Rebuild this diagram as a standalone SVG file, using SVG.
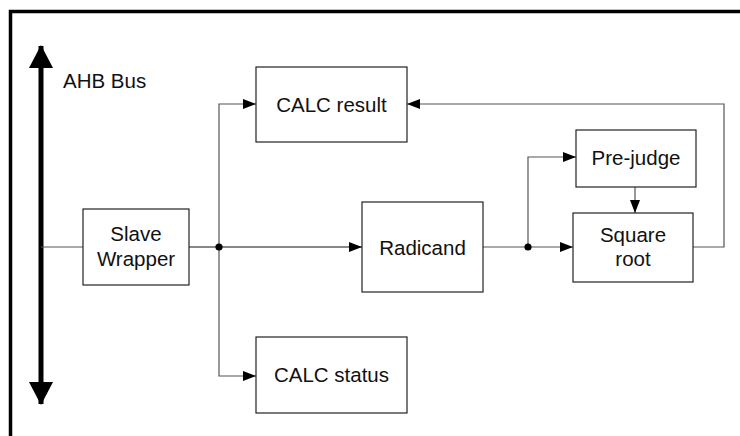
<svg xmlns="http://www.w3.org/2000/svg" width="740" height="436" viewBox="0 0 740 436">
<style>
.box{fill:#fff;stroke:#222;stroke-width:1.2}
.t{font-family:"Liberation Sans",Arial,sans-serif;font-size:20.5px;fill:#111;text-anchor:middle}
.c{fill:none;stroke:#555;stroke-width:1.2}
.k{fill:none;stroke:#111;stroke-width:1.2}
</style>
<defs>
<marker id="ah" markerWidth="13" markerHeight="10" refX="13" refY="5" orient="auto" markerUnits="userSpaceOnUse">
<path d="M0,0 L13,5 L0,10 Z" fill="#000"/>
</marker>
<marker id="bh" markerWidth="24" markerHeight="24" refX="22" refY="12" orient="auto" markerUnits="userSpaceOnUse">
<path d="M0,0 L23,12 L0,24 Z" fill="#000"/>
</marker>
</defs>
<rect x="10.5" y="11.5" width="760" height="460" fill="#fff" stroke="#000" stroke-width="3.5"/>
<g id="connectors">
<line x1="41" y1="224" x2="41" y2="46" stroke="#000" stroke-width="5" marker-end="url(#bh)"/>
<line x1="41" y1="224" x2="41" y2="404" stroke="#000" stroke-width="5" marker-end="url(#bh)"/>
<path class="c" d="M41,247 H83"/>
<path class="k" d="M189,247 H362" marker-end="url(#ah)"/>
<path class="c" d="M219,247 V104 H256" marker-end="url(#ah)"/>
<path class="c" d="M219,247 V376 H256" marker-end="url(#ah)"/>
<circle cx="219" cy="247" r="3.6" fill="#000"/>
<path class="c" d="M483,247 H573" marker-end="url(#ah)"/>
<path class="c" d="M528,247 V157 H576" marker-end="url(#ah)"/>
<circle cx="528" cy="247" r="3.6" fill="#000"/>
<path class="c" d="M635,187 V213" marker-end="url(#ah)"/>
<path class="c" d="M693,247 H724 V104 H407" marker-end="url(#ah)"/>
</g>
<g id="label-ahb"><text class="t" x="63" y="88" style="text-anchor:start">AHB Bus</text></g>
<g id="slave-wrapper">
<rect class="box" x="83" y="209" width="106" height="76"/>
<text class="t" x="136" y="241">Slave</text>
<text class="t" x="136" y="266">Wrapper</text>
</g>
<g id="calc-result">
<rect class="box" x="256" y="67" width="151" height="75"/>
<text class="t" x="331.5" y="112">CALC result</text>
</g>
<g id="calc-status">
<rect class="box" x="256" y="337" width="151" height="76"/>
<text class="t" x="331.5" y="382">CALC status</text>
</g>
<g id="radicand">
<rect class="box" x="362" y="202" width="121" height="90"/>
<text class="t" x="422.5" y="254.5">Radicand</text>
</g>
<g id="pre-judge">
<rect class="box" x="576" y="130" width="120" height="57"/>
<text class="t" x="636" y="165">Pre-judge</text>
</g>
<g id="square-root">
<rect class="box" x="573" y="213" width="120" height="69"/>
<text class="t" x="633" y="242">Square</text>
<text class="t" x="633" y="266">root</text>
</g>
</svg>
